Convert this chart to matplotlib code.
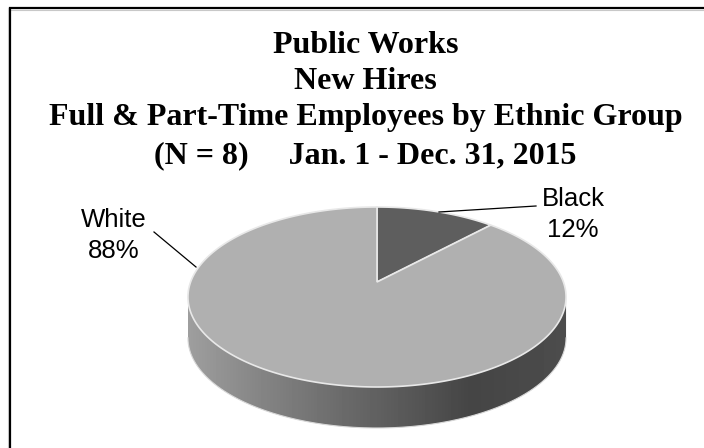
import numpy as np
import matplotlib
matplotlib.use("Agg")
import matplotlib.pyplot as plt
from matplotlib.patches import Polygon

# data
categories = ["Black", "White"]
shares = [12, 88]
title_lines = ["Public Works", "New Hires", "Full & Part-Time Employees by Ethnic Group",
               "(N = 8)     Jan. 1 - Dec. 31, 2015"]
slice_colors = ["#5e5e5e", "#b0b0b0"]

W, H = 704, 448
CX, CY = 377, 282   # apex of the pie in pixels
A, C, K = 186.4, 87.5, 1 / 6.0
DEPTH = 41


def project(theta):
    # theta clockwise from the top, true pie angle -> screen position
    u, v = np.sin(theta), np.cos(theta)
    d = 1 + K * v
    return CX + A * u / d, CY - C * v / d


fig = plt.figure(figsize=(W / 100, H / 100), dpi=100)
ax = fig.add_axes([0, 0, 1, 1])
ax.set_xlim(0, W)
ax.set_ylim(H, 0)
ax.axis("off")

# frame, only top and left are inside the crop
ax.plot([10, W], [9.6, 9.6], color="#c8c8c8", lw=0.8, zorder=1)
ax.plot([8.2, 8.2], [8, H], color="#d8d8d8", lw=0.8, zorder=1)
ax.plot([W, 10, 10], [8, 8, H], color="black", lw=1.6,
        solid_joinstyle="miter", zorder=1.2)

# side of the pie, gradient clipped to the lower rim
t = np.linspace(0, 2 * np.pi, 721)
x, y = project(t)
left, right = x.argmin(), x.argmax()
rim = t[right:left + 1]
rx, ry = project(rim)
side = np.vstack([np.c_[rx, ry], np.c_[rx[::-1], ry[::-1] + DEPTH]])
clip = Polygon(side, closed=True, fc="none", ec="none")
ax.add_patch(clip)
stops_x = [188, 260, 340, 420, 470, 566]
stops_g = [0.62, 0.52, 0.42, 0.33, 0.27, 0.30]
grad = np.interp(np.arange(188, 567), stops_x, stops_g)[None, :]
im = ax.imshow(grad, cmap="gray", vmin=0, vmax=1, extent=(188, 567, 440, 280),
               aspect="auto", zorder=1)
im.set_clip_path(clip)
ax.set_xlim(0, W)
ax.set_ylim(H, 0)
ax.plot(rx, ry + DEPTH, color="#d8d8d8", lw=0.8, zorder=1.5)

# top of the pie, slices taken from the shares
start = 0.0
for val, col in zip(shares, slice_colors):
    end = start + val / sum(shares) * 2 * np.pi
    a = np.linspace(start, end, 361)
    px, py = project(a)
    ax.fill(np.r_[CX, px], np.r_[CY, py], fc=col, ec="#e8e8e8", lw=1.2,
            joinstyle="miter", zorder=2)
    start = end

# labels and leader lines
lab = dict(ha="center", va="baseline", fontsize=18.5, family="Liberation Sans", zorder=4)
ax.text(573, 206, categories[0], **lab)
ax.text(573, 237, f"{shares[0]}%", **lab)
ax.text(113.5, 227, categories[1], **lab)
ax.text(113.5, 258, f"{shares[1]}%", **lab)
ax.plot([439, 536], [212, 206], color="black", lw=0.9, zorder=4)
ax.plot([154, 196], [232, 267], color="black", lw=0.9, zorder=4)

# title
for line, yy in zip(title_lines, [53, 89, 125.5, 163]):
    ax.text(365.5, yy, line, ha="center", va="baseline", fontsize=23,
            fontweight="bold", family="Liberation Serif", zorder=4)

fig.savefig("out.png", dpi=100)
